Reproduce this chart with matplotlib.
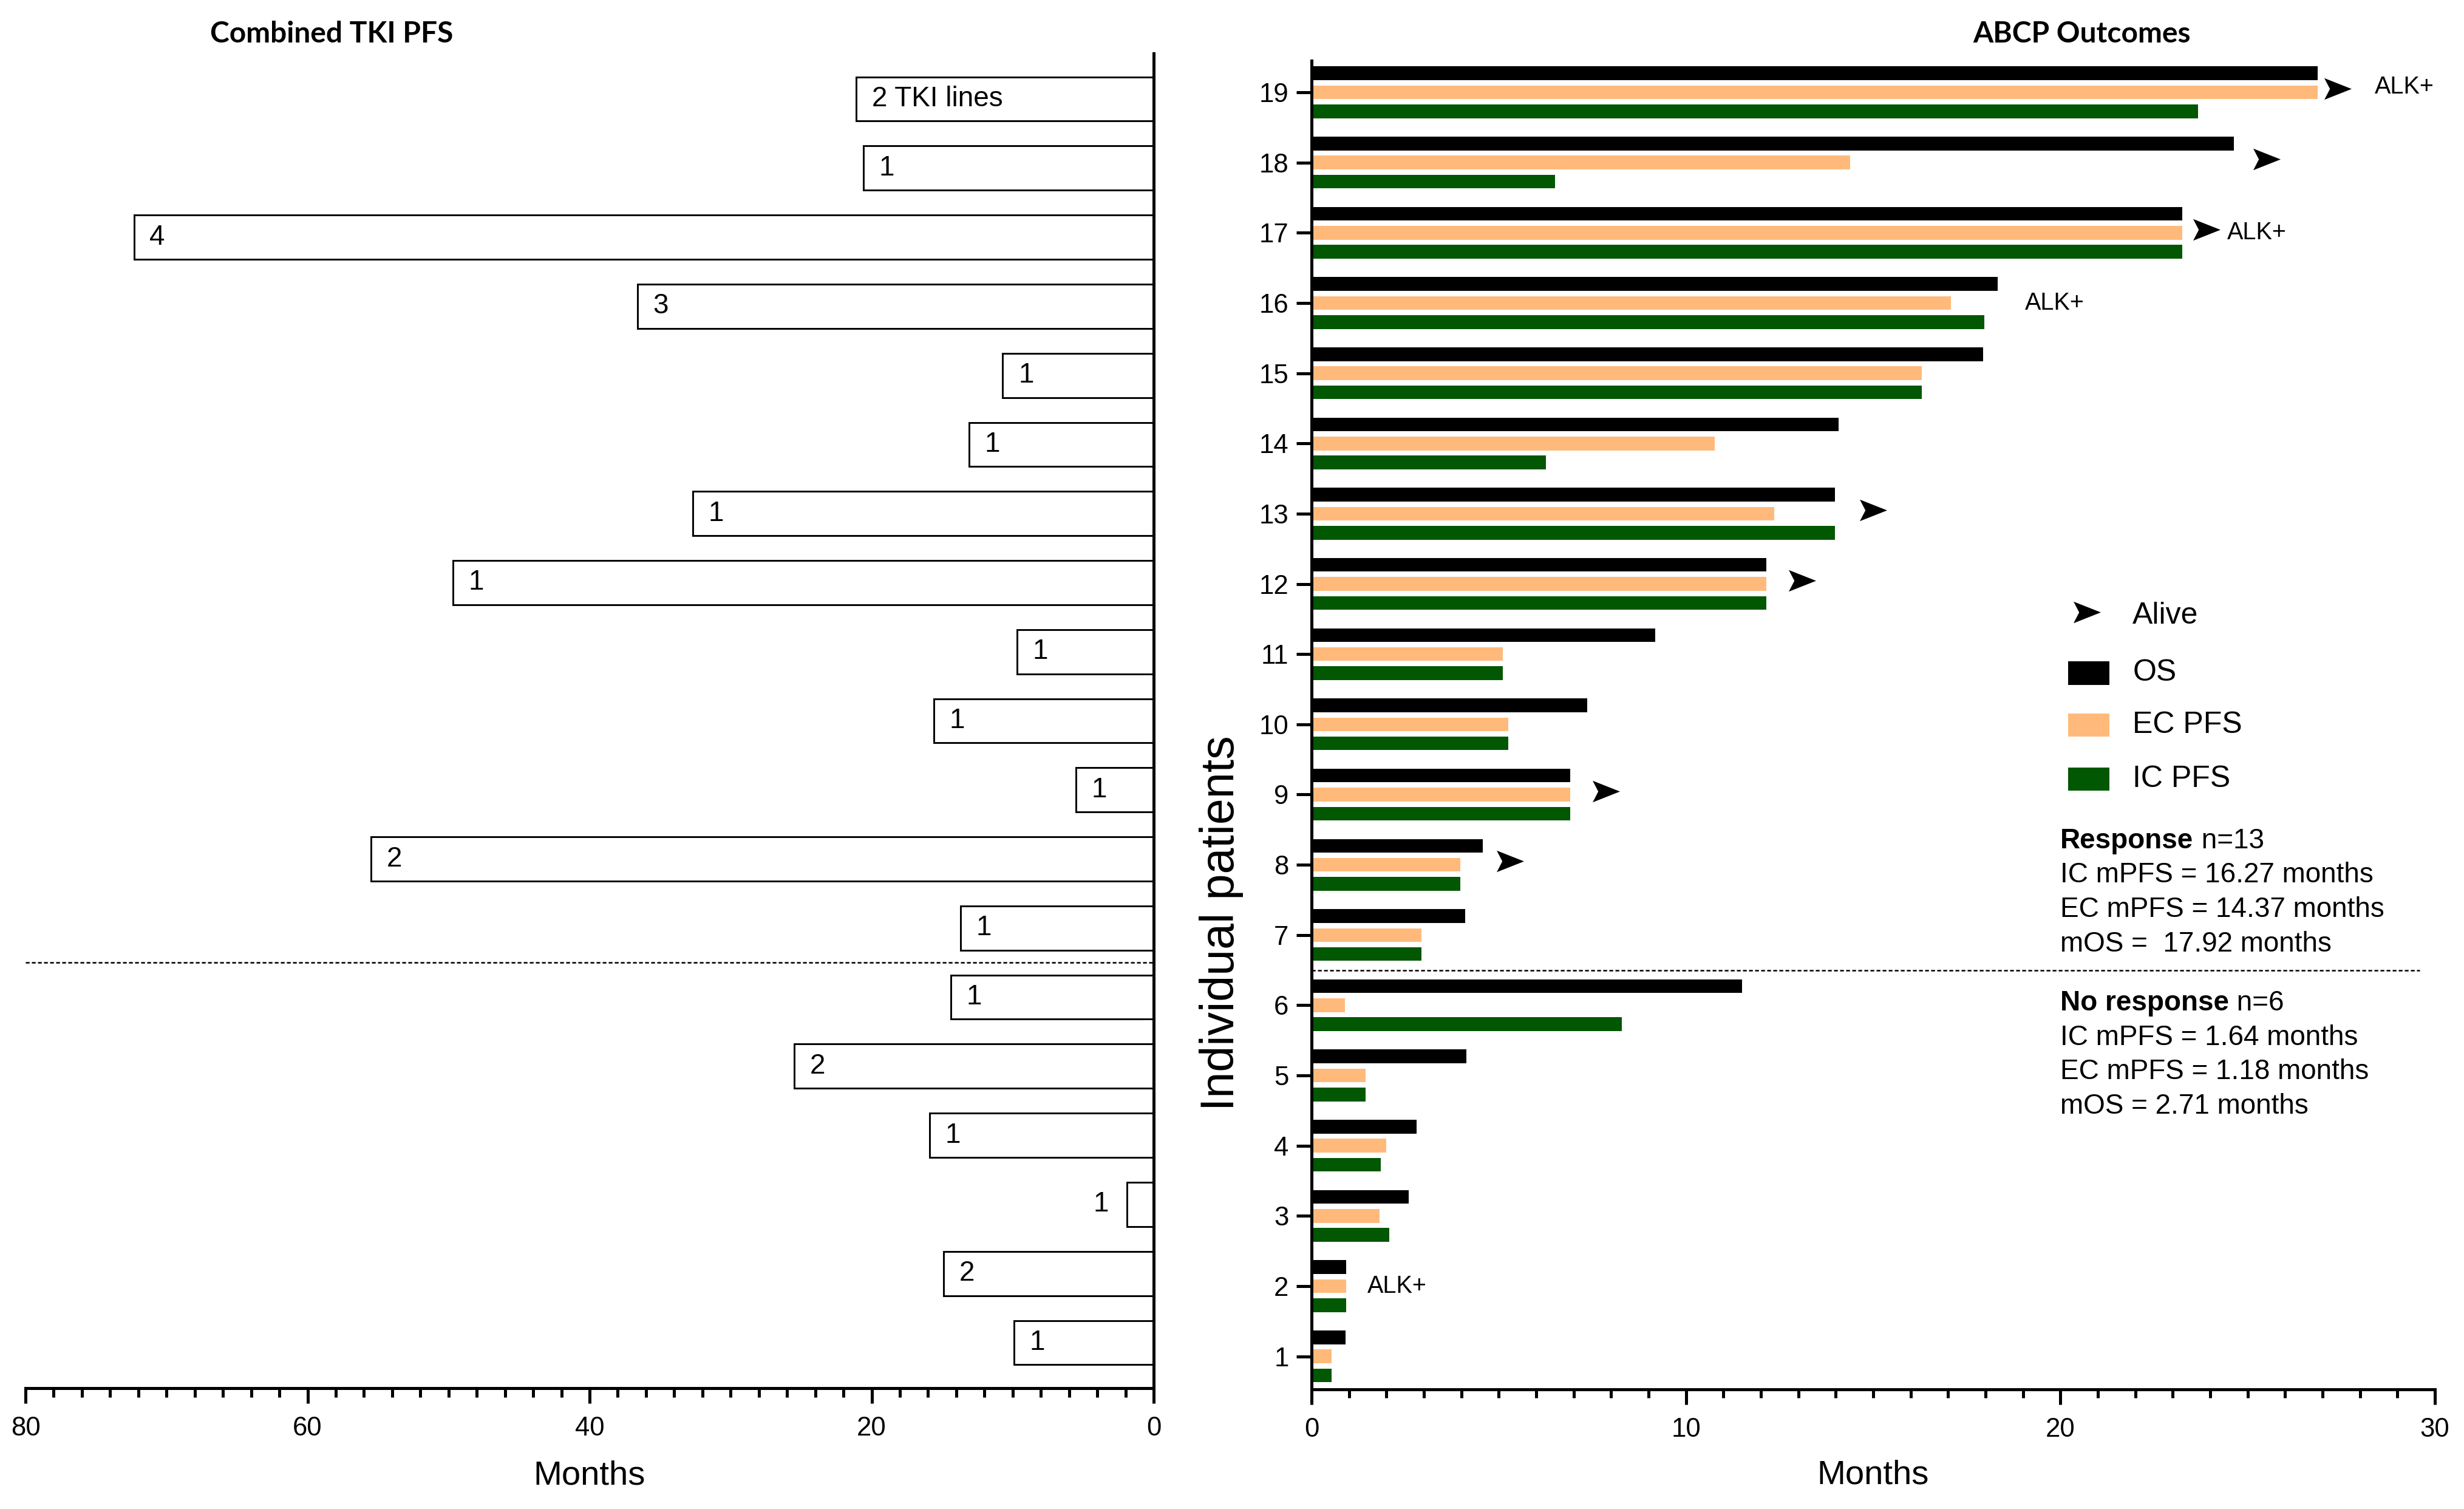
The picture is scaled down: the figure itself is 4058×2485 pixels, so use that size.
import numpy as np
import matplotlib
matplotlib.use("Agg")
import matplotlib.pyplot as plt
from matplotlib.path import Path
from matplotlib.patches import Rectangle

plt.rcParams['font.family'] = ['Liberation Sans', 'DejaVu Sans']

# ---- data ----
patients = np.arange(1, 20)

# combined TKI PFS (months) and number of TKI lines, patients 1..19
tki_pfs = [9.9, 14.9, 1.9, 15.9, 25.5, 14.4, 13.7, 55.5, 5.5, 15.6,
           9.7, 49.7, 32.7, 13.1, 10.7, 36.6, 72.3, 20.6, 21.1]
tki_lines = ['1', '2', '1', '1', '2', '1', '1', '2', '1', '1',
             '1', '1', '1', '1', '1', '3', '4', '1', '2 TKI lines']

# ABCP outcomes (months), patients 1..19
os_months = [0.9, 0.92, 2.6, 2.81, 4.13, 11.49, 4.11, 4.58, 6.9, 7.37,
             9.18, 12.15, 13.98, 14.08, 17.94, 18.33, 23.25, 24.63, 26.87]
ec_pfs = [0.53, 0.92, 1.81, 2.0, 1.45, 0.89, 2.94, 3.98, 6.9, 5.26,
          5.11, 12.15, 12.36, 10.76, 16.3, 17.07, 23.25, 14.38, 26.87]
ic_pfs = [0.53, 0.92, 2.07, 1.85, 1.45, 8.29, 2.94, 3.98, 6.9, 5.26,
          5.11, 12.15, 13.98, 6.26, 16.3, 17.96, 23.25, 6.5, 23.67]

alive_patients = [19, 18, 17, 13, 12, 9, 8]
alive_x = [27.4, 25.5, 23.9, 15.0, 13.1, 7.86, 5.3]

alk_patients = [19, 17, 16, 2]
alk_x = [28.4, 24.45, 19.06, 1.49]

response_lines = ['IC mPFS = 16.27 months', 'EC mPFS = 14.37 months', 'mOS =  17.92 months']
noresponse_lines = ['IC mPFS = 1.64 months', 'EC mPFS = 1.18 months', 'mOS = 2.71 months']

col_os = 'black'
col_ec = '#FFBA7B'
col_ic = '#025702'

# arrow marker like the "Alive" symbol
arrow = Path([(-1, 0.79), (1, 0), (-1, -0.79), (-0.59, 0), (-1, 0.79)],
             [Path.MOVETO, Path.LINETO, Path.LINETO, Path.LINETO, Path.CLOSEPOLY])

W, H = 4058, 2485
fig = plt.figure(figsize=(W / 300, H / 300), dpi=300)

def fx(px):
    return px / W

def fy(px):
    return 1 - px / H

# ---- left panel: combined TKI PFS ----
axl = fig.add_axes([fx(42), fy(2286), fx(1900) - fx(42), fy(88) - fy(2286)])
axl.barh(patients, tki_pfs, height=0.64, color='white', edgecolor='black', linewidth=0.7)
for p, v, lab in zip(patients, tki_pfs, tki_lines):
    if v < 4:
        axl.text(v + 1.3, p, lab, ha='right', va='center', fontsize=11)
    else:
        axl.text(v - 1.1, p, lab, ha='left', va='center', fontsize=11)
axl.set_xlim(80, 0)
axl.set_ylim(0.34, 19.66)
axl.axhline(6.5, color='black', linestyle=(0, (2.5, 1.5)), linewidth=0.6)
for s in ['left', 'top']:
    axl.spines[s].set_visible(False)
axl.spines['right'].set_linewidth(1.2)
axl.spines['bottom'].set_linewidth(1.2)
axl.set_yticks([])
axl.set_xticks([80, 60, 40, 20, 0])
axl.set_xticks(np.arange(0, 81, 2), minor=True)
axl.tick_params(axis='x', which='major', length=6, width=1.2, labelsize=10.5, pad=5)
axl.tick_params(axis='x', which='minor', length=3.5, width=1.2)
axl.set_xlabel('Months', fontsize=13.5, labelpad=7.5)

# ---- right panel: ABCP outcomes ----
axr = fig.add_axes([fx(2160), fy(2288), fx(4010) - fx(2160), fy(100) - fy(2288)])
bh = 0.195
off = 0.271
axr.barh(patients + off, os_months, height=bh, color=col_os, linewidth=0)
axr.barh(patients, ec_pfs, height=bh, color=col_ec, linewidth=0)
axr.barh(patients - off, ic_pfs, height=bh, color=col_ic, linewidth=0)
axr.plot(alive_x, np.array(alive_patients) + 0.05, linestyle='none', marker=arrow,
         markersize=10.8, color='black', markeredgewidth=0)
for p, x in zip(alk_patients, alk_x):
    axr.text(x, p + (0.08 if p == 19 else 0.0), 'ALK+', ha='left', va='center', fontsize=9.5)
axr.plot([0, 29.6], [6.5, 6.5], color='black', linestyle=(0, (2.5, 1.5)), linewidth=0.6)

axr.set_xlim(0, 30)
axr.set_ylim(0.53, 19.45)
for s in ['right', 'top']:
    axr.spines[s].set_visible(False)
axr.spines['left'].set_linewidth(1.2)
axr.spines['bottom'].set_linewidth(1.2)
axr.set_yticks(patients)
axr.set_xticks([0, 10, 20, 30])
axr.set_xticks(np.arange(0, 31, 1), minor=True)
axr.tick_params(axis='x', which='major', length=6, width=1.2, labelsize=10.5, pad=5)
axr.tick_params(axis='x', which='minor', length=3.3, width=1.2)
axr.tick_params(axis='y', which='major', length=6, width=1.2, labelsize=10.5, pad=3)
axr.set_xlabel('Months', fontsize=13.5, labelpad=7)

# legend drawn by hand
axr.plot([20.7], [11.6], linestyle='none', marker=arrow, markersize=10.8,
         color='black', markeredgewidth=0, clip_on=False)
axr.text(21.93, 11.55, 'Alive', ha='left', va='center', fontsize=12)
for yc, c, lab in [(10.73, col_os, 'OS'), (9.99, col_ec, 'EC PFS'), (9.22, col_ic, 'IC PFS')]:
    axr.add_patch(Rectangle((20.2, yc - 0.165), 1.1, 0.33, color=c, linewidth=0))
    axr.text(21.93, yc, lab, ha='left', va='center', fontsize=12)

# summary text blocks
def block(y0, head, n, lines):
    t = axr.text(20.0, y0, head, ha='left', va='center', fontsize=11, fontweight='bold')
    axr.annotate(n, xy=(1, 0), xycoords=t, ha='left', va='bottom', fontsize=11)
    for i, ln in enumerate(lines):
        axr.text(20.0, y0 - 0.49 * (i + 1), ln, ha='left', va='center', fontsize=11)

block(8.34, 'Response', ' n=13', response_lines)
block(6.03, 'No response', ' n=6', noresponse_lines)

# titles and y label
fig.text(fx(546), fy(56), 'Combined TKI PFS', ha='center', va='center',
         fontsize=11.5, fontweight='bold', family=['Lato', 'DejaVu Sans'])
fig.text(fx(3429), fy(56), 'ABCP Outcomes', ha='center', va='center',
         fontsize=11.5, fontweight='bold', family=['Lato', 'DejaVu Sans'])
fig.text(fx(2012), fy(1520), 'Individual patients', rotation=90, ha='center',
         va='center', fontsize=18.5)

fig.savefig('out.png', dpi=300)
